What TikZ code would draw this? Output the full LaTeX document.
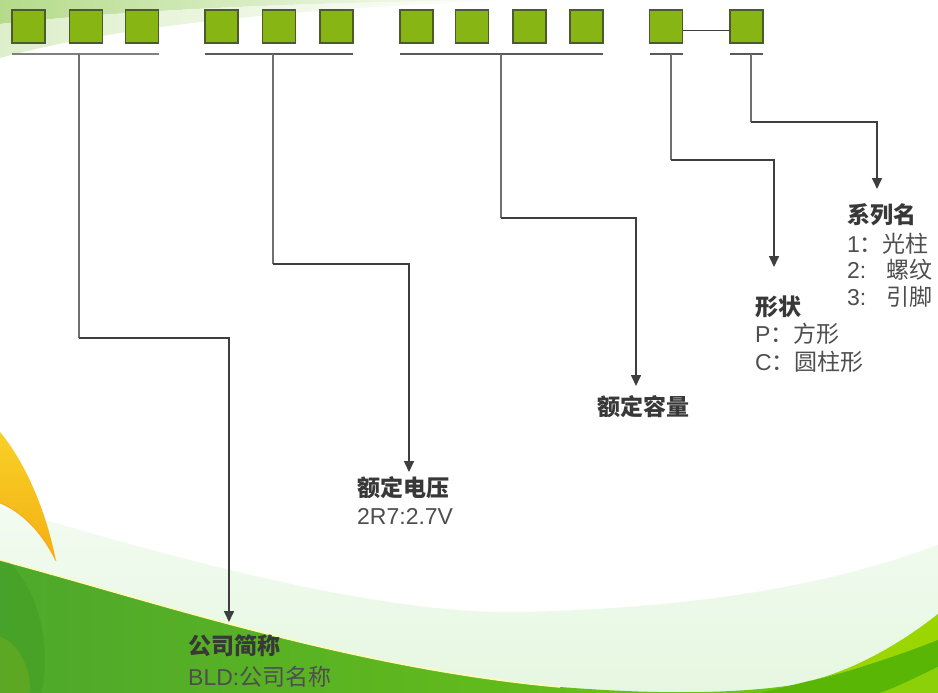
\documentclass[tikz,border=0pt]{standalone}
\usepackage{fontspec}
\setmainfont{Liberation Sans}
\newfontfamily\cjk{Noto Sans CJK SC}
\usetikzlibrary{arrows.meta,calc}
\definecolor{sqfill}{HTML}{86B514}
\definecolor{sqedge}{HTML}{4C5A2E}
\definecolor{dropgray}{HTML}{707070}
\definecolor{conndark}{HTML}{3E3E3E}
\definecolor{hdrcol}{HTML}{383838}
\definecolor{txtcol}{HTML}{4E4E4E}
\definecolor{palegreen}{HTML}{E6F7E1}
\definecolor{palegreentop}{HTML}{F2FBF0}
\definecolor{greenL}{HTML}{4EA82C}
\definecolor{greenR}{HTML}{72CA0E}
\definecolor{ygreen}{HTML}{9CD602}
\definecolor{dgreen}{HTML}{5AB604}
\definecolor{lgreen}{HTML}{8CD00A}
\definecolor{leafY}{HTML}{F9D028}
\definecolor{leafO}{HTML}{F2B012}
\definecolor{swoosh}{HTML}{B4DB8A}
\begin{document}
\begin{tikzpicture}[x=1pt,y=-1pt,
  sq/.style={draw=sqedge,line width=1.8pt,fill=sqfill,minimum width=33pt,minimum height=33pt,inner sep=0pt,outer sep=0pt},
  uline/.style={draw=black!65,line width=2pt},
  drop/.style={draw=dropgray,line width=2pt},
  conn/.style={draw=conndark,line width=1.6pt},
  arr/.style={conn,-{Triangle[width=10pt,length=11pt]}},
  hdr/.style={anchor=west,inner sep=0pt,text=hdrcol,font=\fontsize{23}{27}\selectfont\cjk\bfseries},
  txt/.style={anchor=west,inner sep=0pt,text=txtcol,font=\fontsize{23}{27}\selectfont}
]
\useasboundingbox (0,0) rectangle (938,693);
\fill[white] (0,0) rectangle (938,693);
% --- background decoration ---
\shade[left color=swoosh,right color=white] (0,0) -- (0,24) .. controls (130,10) and (300,2) .. (520,0) -- cycle;
\shade[left color=swoosh!45,right color=white] (0,24) .. controls (130,10) and (300,2) .. (520,0) .. controls (300,8) and (120,25) .. (0,58) -- cycle;
\shade[top color=palegreentop,bottom color=palegreen]
  (0,507) .. controls (180,560) and (380,615) .. (520,612) .. controls (700,608) and (830,585) .. (938,545) -- (938,693) -- (0,693) -- cycle;
\shade[left color=greenL,right color=greenR]
  (0,560) .. controls (150,600) and (350,668) .. (560,687) .. controls (700,698) and (780,690) .. (830,678) .. controls (880,665) and (910,640) .. (938,614) -- (938,693) -- (0,693) -- cycle;
\fill[ygreen] (810,681) .. controls (860,668) and (905,640) .. (938,614) -- (938,640) .. controls (900,655) and (850,672) .. (805,682) -- cycle;
\fill[dgreen] (805,682) .. controls (850,672) and (900,655) .. (938,640) -- (938,667) .. controls (915,678) and (895,688) .. (880,693) -- (760,693) -- cycle;
\fill[lgreen] (880,693) .. controls (895,688) and (915,678) .. (938,667) -- (938,693) -- cycle;
\draw[color=yellow!30!white,line width=1.5pt]
  (0,560) .. controls (150,600) and (350,668) .. (560,687);
\begin{scope}
\clip (0,560) .. controls (150,600) and (350,668) .. (560,687) -- (0,693) -- cycle;
\fill[green!40!black,opacity=0.09] (-40,660) ellipse [x radius=85, y radius=120];
\fill[yellow!70!orange,opacity=0.12] (-10,690) ellipse [x radius=40, y radius=55];
\end{scope}
\shade[top color=leafY,bottom color=leafO]
  (0,432) .. controls (25,462) and (46,510) .. (56,561) .. controls (42,532) and (22,512) .. (0,503) -- cycle;
\draw[color=orange!80!yellow,line width=1pt,opacity=0.6]
  (56,561) .. controls (42,532) and (22,512) .. (0,503);
% --- code squares ---
\node[sq] (s1) at (28.5,26.5) {};
\node[sq] (s2) at (86,26.5) {};
\node[sq] (s3) at (142,26.5) {};
\node[sq] (s4) at (221.5,26.5) {};
\node[sq] (s5) at (279,26.5) {};
\node[sq] (s6) at (336.5,26.5) {};
\node[sq] (s7) at (416.5,26.5) {};
\node[sq] (s8) at (472,26.5) {};
\node[sq] (s9) at (529.5,26.5) {};
\node[sq] (s10) at (586.5,26.5) {};
\node[sq] (s11) at (666,26.5) {};
\node[sq] (s12) at (746.5,26.5) {};
\draw[conn,line width=1.4pt] ($(s11.east)+(0,4)$) -- ($(s12.west)+(0,4)$);
% --- underlines ---
\coordinate (ul) at (0,54);
\draw[uline,draw=black!50] (s1.west |- ul) -- (s3.east |- ul);
\draw[uline] (s4.west |- ul) -- (s6.east |- ul);
\draw[uline] (s7.west |- ul) -- (s10.east |- ul);
\draw[uline] (s11.west |- ul) -- (s11.east |- ul);
\draw[uline] (s12.west |- ul) -- (s12.east |- ul);
% --- drop points, bend levels and arrow tips ---
\coordinate (u1) at (79,54);   \coordinate (b1) at (0,338); \coordinate (t1) at (229,622);
\coordinate (u2) at (273,54);  \coordinate (b2) at (0,264); \coordinate (t2) at (409,472);
\coordinate (u3) at (501,54);  \coordinate (b3) at (0,218); \coordinate (t3) at (636,386);
\coordinate (u4) at (671,54);  \coordinate (b4) at (0,160); \coordinate (t4) at (774,267);
\coordinate (u5) at (751,54);  \coordinate (b5) at (0,122); \coordinate (t5) at (877,189);
\draw[drop] (u1) -- (u1 |- b1);
\draw[drop] (u2) -- (u2 |- b2);
\draw[drop] (u3) -- (u3 |- b3);
\draw[drop] (u4) -- (u4 |- b4);
\draw[drop] (u5) -- (u5 |- b5);
\draw[arr] (u1 |- b1) -| (t1);
\draw[arr] (u2 |- b2) -| (t2);
\draw[arr] (u3 |- b3) -| (t3);
\draw[arr] (u4 |- b4) -| (t4);
\draw[arr] (u5 |- b5) -| (t5);
% --- labels ---
\node[hdr] (l1) at (188,646) {公司简称};
\node[txt] (l1b) at (188,677) {BLD:{\cjk 公司名称}};
\node[hdr] (l2) at (357,488) {额定电压};
\node[txt] (l2b) at (357,516) {2R7:2.7V};
\node[hdr] (l3) at (597,407) {额定容量};
\node[hdr] (l4) at (755,307) {形状};
\node[txt] (l4b) at (755,334) {P{\cjk ：方形}};
\node[txt] (l4c) at (755,362) {C{\cjk ：圆柱形}};
\node[hdr] (l5) at (847,215) {系列名};
\node[txt] (l5b) at (847,244) {1{\cjk ：光柱}};
\node[txt] (l5c) at (847,270) {2:\hspace{20pt}{\cjk 螺纹}};
\node[txt] (l5d) at (847,297) {3:\hspace{20pt}{\cjk 引脚}};
\end{tikzpicture}
\end{document}
